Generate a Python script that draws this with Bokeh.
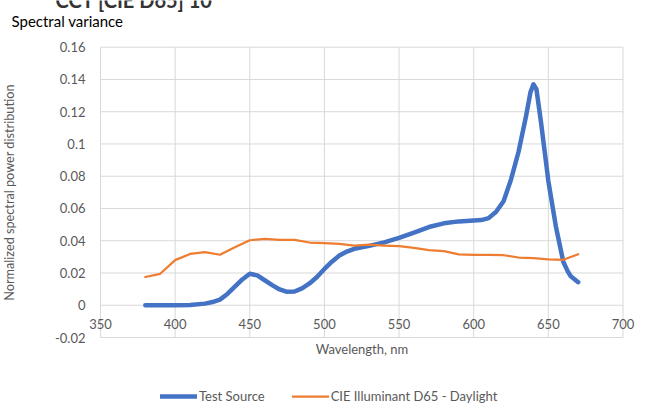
from bokeh.plotting import figure
from bokeh.models import (FixedTicker, CustomJSTickFormatter, Legend, LegendItem,
                          Range1d, ColumnDataSource, LinearAxis, Label)
from bokeh.embed import file_html
from bokeh.resources import INLINE

# ---- data ----
ts_wavelength = [380, 390, 400, 410, 420, 425, 430, 435, 440, 445, 450, 455, 460, 465, 470,
                 475, 480, 485, 490, 495, 500, 505, 510, 515, 520, 530, 540, 550, 560, 570,
                 580, 590, 600, 605, 610, 615, 620, 625, 630, 635, 638, 640, 642, 645, 650,
                 655, 660, 663, 665, 670]
test_source = [0.0, 0.0, 0.0, 0.0002, 0.001, 0.002, 0.0035, 0.007, 0.0115, 0.016, 0.0195, 0.0185, 0.0155, 0.0125, 0.0098,
               0.0083, 0.0085, 0.0105, 0.0135, 0.0175, 0.0225, 0.027, 0.0308, 0.0333, 0.035, 0.0368, 0.039, 0.0418, 0.045, 0.0485,
               0.0508, 0.052, 0.0525, 0.0528, 0.054, 0.058, 0.0645, 0.078, 0.095, 0.117, 0.132, 0.137, 0.134, 0.114, 0.077,
               0.049, 0.027, 0.021, 0.018, 0.0143]
d65_wavelength = [380, 390, 400, 410, 420, 430, 440, 450, 460, 470,
                  480, 490, 500, 510, 520, 530, 540, 550, 560, 570,
                  580, 590, 600, 610, 620, 630, 640, 650, 660, 670]
d65_daylight = [0.0175, 0.0195, 0.028, 0.0318, 0.033, 0.0313, 0.036, 0.0403, 0.0411, 0.0406,
                0.0405, 0.0389, 0.0385, 0.0381, 0.037, 0.0376, 0.037, 0.0366, 0.0355, 0.0342,
                0.0335, 0.0316, 0.0313, 0.0313, 0.031, 0.0296, 0.0292, 0.0285, 0.0282, 0.0316]
x_ticks = [350, 400, 450, 500, 550, 600, 650, 700]
y_ticks = [-0.02, 0.0, 0.02, 0.04, 0.06, 0.08, 0.10, 0.12, 0.14, 0.16]

series_names = ["Test Source", "CIE Illuminant D65 - Daylight"]
chart_title = "CCT [CIE D65] 10"
subtitle = "Spectral variance"
x_label = "Wavelength, nm"
y_label = "Normalized spectral power distribution"

FONT = "Lato"
TXT = "#595959"
GRID = "#d9d9d9"

W, H = 646, 403
# plot area in the reference: x 350..700 -> px 100..622.5, y -0.02..0.16 -> px 337..46.7
PX_L, PX_R, PY_T, PY_B = 100.0, 622.5, 46.7, 337.0
nm_per_px = (x_ticks[-1] - x_ticks[0]) / (PX_R - PX_L)
v_per_px = (y_ticks[-1] - y_ticks[0]) / (PY_B - PY_T)
x0 = x_ticks[0] - PX_L * nm_per_px
x1 = x_ticks[-1] + (W - PX_R) * nm_per_px
y0 = y_ticks[0] - (H - PY_B) * v_per_px
y1 = y_ticks[-1] + PY_T * v_per_px

p = figure(width=W, height=H, output_backend="svg", toolbar_location=None,
           x_range=Range1d(x0, x1), y_range=Range1d(y0, y1),
           x_axis_location=None, y_axis_location=None,
           min_border=0, min_border_left=0, min_border_right=0,
           min_border_top=0, min_border_bottom=0)
p.outline_line_color = None
p.background_fill_color = "white"
p.border_fill_color = "white"
p.xgrid.visible = False
p.ygrid.visible = False

# gridlines limited to the plot area
p.segment(x0=[x_ticks[0]] * len(y_ticks), x1=[x_ticks[-1]] * len(y_ticks),
          y0=y_ticks, y1=y_ticks, line_color=GRID, line_width=1)
p.segment(x0=x_ticks, x1=x_ticks, y0=[y_ticks[0]] * len(x_ticks),
          y1=[y_ticks[-1]] * len(x_ticks), line_color=GRID, line_width=1)

# y axis
ya = LinearAxis(fixed_location=x_ticks[0], bounds=(y_ticks[0], y_ticks[-1]),
                ticker=FixedTicker(ticks=y_ticks),
                formatter=CustomJSTickFormatter(code="""
let s = tick.toFixed(2);
s = s.replace(/0+$/, '').replace(/\\.$/, '');
if (s === '-0') s = '0';
return s;
"""),
                axis_line_color=None, major_tick_out=0, major_tick_in=0,
                minor_tick_out=0, minor_tick_in=0, major_label_standoff=15,
                major_label_text_font=FONT, major_label_text_font_size="13px",
                major_label_text_color=TXT,
                axis_label=y_label, axis_label_text_font=FONT,
                axis_label_text_font_size="12.7px", axis_label_text_font_style="normal",
                axis_label_text_color=TXT, axis_label_standoff=35)
p.add_layout(ya, "left")

# x axis crossing at y = 0
xa = LinearAxis(fixed_location=0, bounds=(x_ticks[0], x_ticks[-1]),
                ticker=FixedTicker(ticks=x_ticks),
                axis_line_color=None, major_tick_out=0, major_tick_in=0,
                minor_tick_out=0, minor_tick_in=0, major_label_standoff=14,
                major_label_text_font=FONT, major_label_text_font_size="13px",
                major_label_text_color=TXT,
                axis_label=x_label, axis_label_text_font=FONT,
                axis_label_text_font_size="13px", axis_label_text_font_style="normal",
                axis_label_text_color=TXT, axis_label_standoff=8)
p.add_layout(xa, "below")

src_ts = ColumnDataSource(dict(x=ts_wavelength, y=test_source))
src_d65 = ColumnDataSource(dict(x=d65_wavelength, y=d65_daylight))
r1 = p.line("x", "y", source=src_ts, line_color="#4472C4", line_width=4.5,
            line_join="round", line_cap="round")
r2 = p.line("x", "y", source=src_d65, line_color="#ED7D31", line_width=2.25,
            line_join="round", line_cap="round")

legend = Legend(items=[LegendItem(label=series_names[0], renderers=[r1]),
                       LegendItem(label=series_names[1], renderers=[r2])],
                orientation="horizontal", location=(160, -1),
                border_line_color=None, background_fill_alpha=0,
                padding=0, margin=0, spacing=27, glyph_width=37, glyph_height=16,
                label_standoff=2, label_text_font=FONT, label_text_font_size="13px",
                label_text_color=TXT, label_height=16)
p.add_layout(legend)

# titles (top one is cut by the top edge, as in the reference)
p.add_layout(Label(x=x0 + 55 * nm_per_px, y=y1 + 1 * v_per_px, text=chart_title,
                   text_font=FONT, text_font_size="20px", text_font_style="bold",
                   text_color="#333333", text_baseline="alphabetic"))
p.add_layout(Label(x=x0 + 11 * nm_per_px, y=y1 - 20.5 * v_per_px, text=subtitle,
                   text_font=FONT, text_font_size="15px", text_color="#000000",
                   text_baseline="alphabetic"))

open("out.html", "w").write(file_html(p, INLINE))
